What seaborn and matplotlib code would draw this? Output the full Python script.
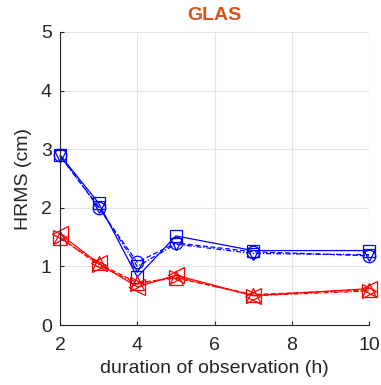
import matplotlib
matplotlib.use("Agg")
import matplotlib.pyplot as plt
import seaborn as sns
import pandas as pd

durations = [2, 3, 4, 5, 7, 10]
blue_square = [2.90, 2.08, 0.82, 1.52, 1.27, 1.27]
blue_circle = [2.90, 2.00, 1.07, 1.40, 1.25, 1.18]
blue_tri = [2.88, 2.02, 1.00, 1.38, 1.22, 1.20]
red_left = [1.55, 1.05, 0.65, 0.85, 0.50, 0.62]
red_up = [1.48, 1.05, 0.72, 0.80, 0.52, 0.60]
red_right = [1.50, 1.02, 0.70, 0.82, 0.50, 0.58]

series = [
    ("blue_square", blue_square, "#0000FF", "s", (0, ()), 9),
    ("blue_circle", blue_circle, "#0000FF", "o", (0, (4, 2)), 9),
    ("blue_tri", blue_tri, "#0000FF", "v", (0, (4, 1.5, 1, 1.5)), 9),
    ("red_left", red_left, "#FF0000", "<", (0, ()), 12),
    ("red_up", red_up, "#FF0000", "^", (0, (4, 2)), 10),
    ("red_right", red_right, "#FF0000", ">", (0, (4, 1.5, 1, 1.5)), 10),
]

sns.set_style("whitegrid")
plt.rcParams["font.family"] = ["Liberation Sans", "DejaVu Sans"]

fig = plt.figure(figsize=(3.81, 3.85), dpi=100)
ax = fig.add_axes([60/381, 60/385, 309/381, 293/385])

for name, vals, col, mk, ls, ms in series:
    df = pd.DataFrame({"x": durations, "y": vals})
    sns.lineplot(data=df, x="x", y="y", ax=ax, color=col, marker=mk,
                 markersize=ms, markerfacecolor="none", markeredgecolor=col,
                 markeredgewidth=0.9, linewidth=0.9, linestyle="-")
    ax.lines[-1].set_linestyle(ls)

ax.set_xlim(2, 10)
ax.set_ylim(0, 5)
ax.set_xticks([2, 4, 6, 8, 10])
ax.set_yticks([0, 1, 2, 3, 4, 5])
ax.grid(True, color="#E3E3E3", linewidth=0.8)
for s in ["top", "right"]:
    ax.spines[s].set_visible(False)
for s in ["left", "bottom"]:
    ax.spines[s].set_color("#262626")
    ax.spines[s].set_linewidth(0.8)
ax.tick_params(axis="both", direction="in", length=3, labelsize=14,
               colors="#262626", left=True, bottom=True)
ax.tick_params(axis="x", pad=9)
ax.tick_params(axis="y", pad=6)
ax.set_xlabel("duration of observation (h)", fontsize=14, color="#262626", labelpad=4)
ax.set_ylabel("HRMS (cm)", fontsize=14, color="#262626", labelpad=6)
ax.set_title("GLAS", fontsize=14, fontweight="bold", color="#D95319", pad=9)
for ln in ax.lines:
    ln.set_clip_on(False)

fig.savefig("out.png", dpi=100)
